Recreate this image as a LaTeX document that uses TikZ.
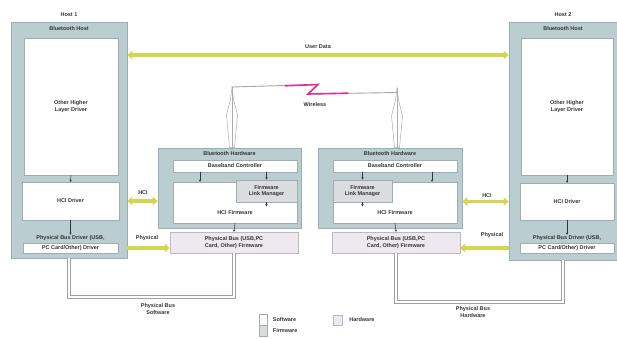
\documentclass[tikz,border=0pt]{standalone}
\usepackage{fontspec}
\setmainfont{Liberation Sans}
\usetikzlibrary{arrows.meta,calc}

\definecolor{hostteal}{RGB}{186,206,209}
\definecolor{tealedge}{RGB}{150,176,181}
\definecolor{swedge}{RGB}{160,172,176}
\definecolor{fwgrey}{RGB}{218,220,221}
\definecolor{hwlilac}{RGB}{238,233,240}
\definecolor{hwedge}{RGB}{190,182,196}
\definecolor{datayellow}{RGB}{214,214,76}
\definecolor{zigpink}{RGB}{226,46,150}
\definecolor{busgrey}{RGB}{160,160,160}

\begin{document}
\begin{tikzpicture}[x=1pt,y=1pt,yscale=-1,xscale=1,
  txt/.style={font=\fontsize{5.5}{6.2}\selectfont\bfseries, text=black!80, align=center, inner sep=0.5pt},
  outerbox/.style={draw=tealedge, fill=hostteal, line width=0.6, inner sep=0},
  swbox/.style={draw=swedge, fill=white, line width=0.4, inner sep=0, txt},
  fwbox/.style={draw=tealedge, fill=fwgrey, line width=0.8, inner sep=0, txt},
  hwbox/.style={draw=hwedge, fill=hwlilac, line width=0.4, inner sep=0, txt},
  tick/.style={line width=0.5, black!80, -{Stealth[length=2.2pt,width=2.4pt]}},
  yarrow/.style={line width=3.2, datayellow, {Triangle[length=5pt,width=8.5pt]}-{Triangle[length=5pt,width=8.5pt]}},
  yarrowone/.style={line width=3.2, datayellow, -{Triangle[length=5pt,width=8.5pt]}},
  busline/.style={busgrey, line width=0.7pt, double=white, double distance=2.6pt},
  antenna/.style={draw=gray!65, fill=white, line width=0.5}
]
\useasboundingbox (0,0) rectangle (617,338);

%Host 1
\node[outerbox, minimum width=116, minimum height=236] (host1) at (69,140) {};
\node[txt] at ($(host1.north)+(0,-7)$) {Host 1};
\node[txt] at ($(host1.north)+(0,7)$) {Bluetooth Host};
\node[swbox, minimum width=94, minimum height=137] (hld1) at (71,106.5) {Other Higher\\Layer Driver};
\node[swbox, minimum width=97, minimum height=38] (hci1) at (70.5,201) {HCI Driver};
\node[txt] (pdt1) at (70.5,238) {Physical Bus Driver (USB,};
\node[swbox, minimum width=95, minimum height=10] (pr1) at (70.5,248) {PC Card/Other) Driver};
\draw[tick] (hld1.south) -- (hci1.north);
\draw[tick] (hci1.south) -- (pdt1.north);

%Host 2
\node[outerbox, minimum width=108, minimum height=238] (host2) at (563,141) {};
\node[txt] at ($(host2.north)+(0,-7)$) {Host 2};
\node[txt] at ($(host2.north)+(0,7)$) {Bluetooth Host};
\node[swbox, minimum width=92, minimum height=137] (hld2) at (567,106.5) {Other Higher\\Layer Driver};
\node[swbox, minimum width=94, minimum height=37] (hci2) at (567,201.5) {HCI Driver};
\node[txt] (pdt2) at (567,238) {Physical Bus Driver (USB,};
\node[swbox, minimum width=94, minimum height=10] (pr2) at (567,248) {PC Card/Other) Driver};
\draw[tick] (hld2.south) -- (hci2.north);
\draw[tick] (hci2.south) -- (pdt2.north);

%Bluetooth hardware, left
\node[outerbox, minimum width=143, minimum height=80] (bth1) at (229.5,188) {};
\node[txt] at ($(bth1.north)+(0,6)$) {Bluetooth Hardware};
\node[swbox, minimum width=124, minimum height=12] (bb1) at (235,166) {Baseband Controller};
\node[swbox, minimum width=124, minimum height=41] (hcf1) at (235,202.5) {};
\node[txt] at ($(hcf1.south)+(0,-11)$) {HCI Firmware};
\node[fwbox, minimum width=61, minimum height=22] (lm1) at (266.5,191) {Firmware\\Link Manager};
\node[hwbox, minimum width=128, minimum height=21] (pb1) at (234,242.5) {Physical Bus (USB,PC\\Card, Other) Firmware};
\draw[tick] (bb1.south -| 200,0) -- (hcf1.north -| 200,0);
\draw[tick] (bb1.south -| lm1.north) -- (lm1.north);
\draw[tick] (lm1.south) -- ++(0,4);
\draw[tick] (hcf1.south) -- (pb1.north);

%Bluetooth hardware, right
\node[outerbox, minimum width=144, minimum height=80] (bth2) at (390,188) {};
\node[txt] at ($(bth2.north)+(0,6)$) {Bluetooth Hardware};
\node[swbox, minimum width=124, minimum height=12] (bb2) at (395,166) {Baseband Controller};
\node[swbox, minimum width=124, minimum height=41] (hcf2) at (395,202.5) {};
\node[txt] at ($(hcf2.south)+(0,-11)$) {HCI Firmware};
\node[fwbox, minimum width=59, minimum height=22] (lm2) at (362.5,191) {Firmware\\Link Manager};
\node[hwbox, minimum width=128, minimum height=21] (pb2) at (396,242.5) {Physical Bus (USB,PC\\Card, Other) Firmware};
\draw[tick] (bb2.south -| 432,0) -- (hcf2.north -| 432,0);
\draw[tick] (bb2.south -| lm2.north) -- (lm2.north);
\draw[tick] (lm2.south) -- ++(0,4);
\draw[tick] (hcf2.south) -- (pb2.north);

%User data
\coordinate (udline) at (318,55);
\node[txt] (ud) at (318,47) {User Data};
\draw[yarrow] (host1.east |- udline) -- (host2.west |- udline);

%HCI and physical links
\node[txt] at (143,193) {HCI};
\draw[yarrow] (host1.east |- hci1.east) -- (bth1.west |- hci1.east);
\node[txt] at (147,238) {Physical};
\draw[yarrowone] (host1.east |- pr1.east) -- (pb1.west |- pr1.east);
\node[txt] at (487,196) {HCI};
\draw[yarrow] (bth2.east |- hci2.west) -- (host2.west |- hci2.west);
\node[txt] at (492,235) {Physical};
\draw[yarrowone] (host2.west |- pr2.west) -- (pb2.east |- pr2.west);

%Antennas and wireless link
\coordinate (ant1) at (232,87);
\coordinate (ant2) at (397,88);
\foreach \ant/\hw in {ant1/bth1, ant2/bth2}{
  \draw[antenna] (\ant) -- ++(1.5,12) -- ++(4,16) -- ($(\hw.north -| \ant)+(2.5,0)$)
    -- ($(\hw.north -| \ant)+(-2.5,0)$) -- ($(\ant)+(-5.5,28)$) -- ($(\ant)+(-1.5,12)$) -- cycle;
  \draw[gray!65, line width=0.4] (\ant) -- (\hw.north -| \ant);
}
\draw[gray!70, line width=0.9] (ant1) -- (318,84.5) -- (308,94) -- ($(ant2)+(0,4.5)$);
\draw[zigpink, line width=1.6, line join=miter] (285,85.8) -- (318,84.5) -- (308,94) -- (348,93.2);
\node[txt] (wl) at (315,105) {Wireless};

%Physical bus connections
\coordinate (busL) at (150,297);
\coordinate (busR) at (480,302);
\draw[busline] (host1.south) -- (host1.south |- busL) -- (pb1.south |- busL) -- (pb1.south);
\draw[busline] (pb2.south) -- (pb2.south |- busR) -- (host2.south |- busR) -- (host2.south);
\node[txt] at (158,309) {Physical Bus\\Software};
\node[txt] at (473,312) {Physical Bus\\Hardware};

%Legend
\node[draw=swedge, fill=white, minimum width=8, minimum height=11, inner sep=0] (lsw) at (263,319.5) {};
\node[draw=swedge, fill=fwgrey, minimum width=8, minimum height=11, inner sep=0] (lfw) at (263,331) {};
\node[draw=hwedge, fill=hwlilac, minimum width=9, minimum height=10, inner sep=0] (lhw) at (338,320) {};
\node[txt, anchor=west] at ($(lsw.east)+(5,0)$) {Software};
\node[txt, anchor=west] at ($(lfw.east)+(5,0)$) {Firmware};
\node[txt, anchor=west] at ($(lhw.east)+(6,0)$) {Hardware};

\end{tikzpicture}
\end{document}
